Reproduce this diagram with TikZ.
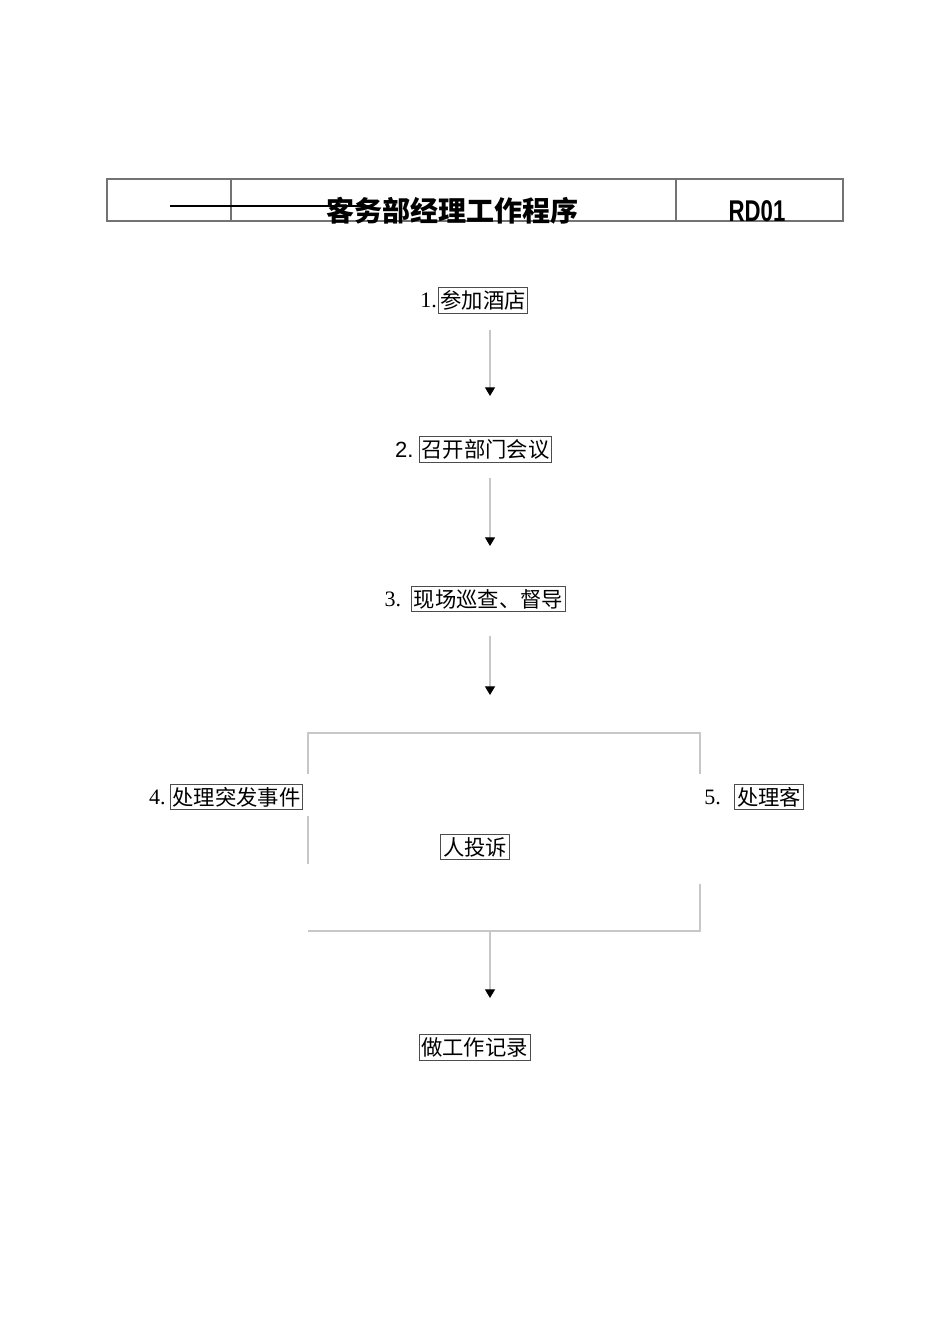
\documentclass[tikz,border=0pt]{standalone}
\usepackage{fontspec}
\setmainfont{Liberation Serif}
\newfontfamily\cjk{Noto Sans CJK SC}
\newfontfamily\numsans{Liberation Sans}
\usetikzlibrary{positioning,arrows.meta}
\begin{document}
\begin{tikzpicture}[x=0.75pt,y=-0.75pt,
    stepbox/.style={draw=black!70,line width=0.6pt,inner xsep=1.6pt,inner ysep=2.2pt,font=\cjk\fontsize{16}{16}\selectfont},
    numlbl/.style={inner sep=0pt,font=\fontsize{16.5}{16.5}\selectfont},
    flow/.style={draw=black!22,line width=0.8pt,-{Triangle[black,width=7.5pt,length=6.5pt]}},
    frame/.style={draw=black!22,line width=0.8pt}]
  \useasboundingbox (0,0) rectangle (950,1344);
  % header
  \draw[draw=black!55,line width=0.8pt] (107,179) rectangle (843,221);
  \draw[draw=black!55,line width=0.8pt] (231,179) -- (231,221) (676,179) -- (676,221);
  \node (title) at (452,211) {\cjk\bfseries\fontsize{21}{21}\selectfont 客务部经理工作程序};
  \node[xscale=0.74] (code) at (757,211) {\numsans\bfseries\fontsize{22.5}{22.5}\selectfont RD01};
  \draw[line width=1.2pt] (170,206) -- (372,206);
  % steps
  \node[stepbox] (n1) at (483,300.5) {参加酒店};
  \node[numlbl,left=0.5pt of n1] (l1) {1.};
  \node[stepbox] (n2) at (485.5,449.5) {召开部门会议};
  \node[numlbl,font=\numsans\fontsize{16.5}{16.5}\selectfont,left=4pt of n2] (l2) {2.};
  \node[stepbox] (n3) at (488.5,599) {现场巡查、督导};
  \node[numlbl,left=7.5pt of n3] (l3) {3.};
  \node[stepbox] (n4) at (236.5,797) {处理突发事件};
  \node[numlbl,left=3pt of n4] (l4) {4.};
  \node[stepbox] (n5) at (769,797) {处理客};
  \node[numlbl,left=10pt of n5] (l5) {5.};
  \node[stepbox] (n6) at (475,847) {人投诉};
  \node[stepbox] (n7) at (474.5,1047.5) {做工作记录};
  % arrows
  \coordinate (a1) at (490,330);
  \coordinate (b1) at (490,396);
  \coordinate (a2) at (490,478);
  \coordinate (b2) at (490,546);
  \coordinate (a3) at (490,636);
  \coordinate (b3) at (490,695);
  \coordinate (a4) at (490,931);
  \coordinate (b4) at (490,998);
  \draw[flow] (a1) -- (b1);
  \draw[flow] (a2) -- (b2);
  \draw[flow] (a3) -- (b3);
  \draw[flow] (a4) -- (b4);
  % frame round 4 and 5
  \draw[frame] (308,774) -- (308,733) -- (700,733) -- (700,774);
  \draw[frame] (308,816) -- (308,864);
  \draw[frame] (700,884) -- (700,931) -- (308,931);
\end{tikzpicture}
\end{document}
